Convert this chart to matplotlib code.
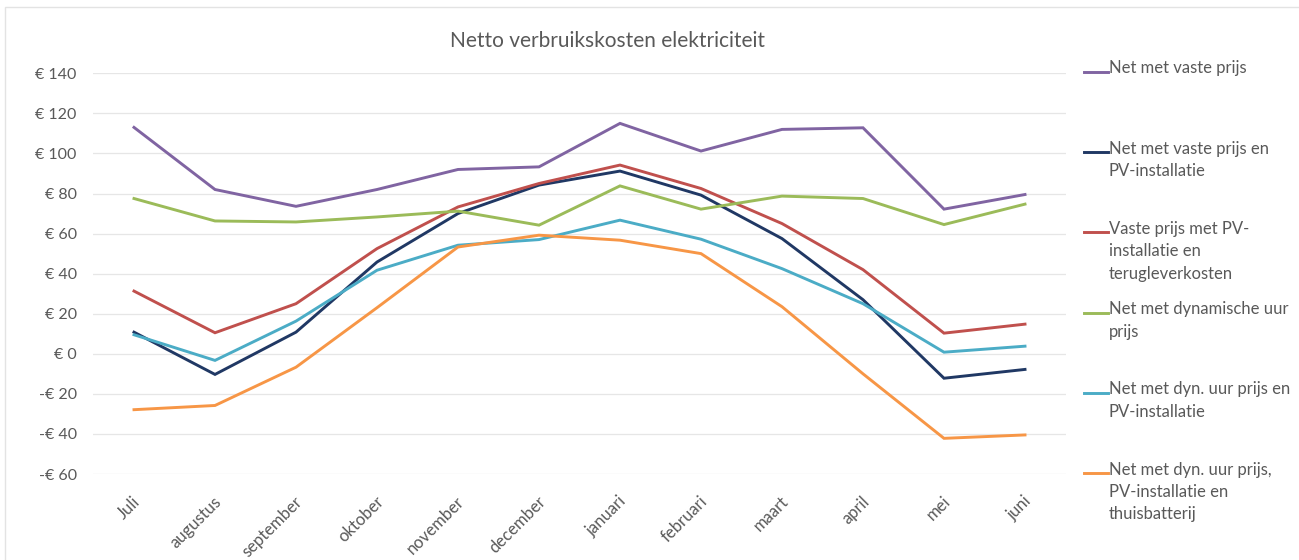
import matplotlib
matplotlib.use("Agg")
import matplotlib.pyplot as plt
from matplotlib.lines import Line2D
from matplotlib.patches import Rectangle
from matplotlib.transforms import ScaledTranslation

# maanden (categorie-as)
maanden = ["Juli", "augustus", "september", "oktober", "november", "december",
           "januari", "februari", "maart", "april", "mei", "juni"]

# netto kosten per maand (EUR)
vaste_prijs = [113, 82, 73.6, 82, 92, 93.3, 115, 101.2, 112, 112.8, 72.2, 79.5]
vaste_pv = [10.8, -10.3, 10.8, 45.8, 70, 84.2, 91.2, 79.2, 57.5, 27, -12.2, -7.8]
vaste_pv_terug = [31.3, 10.5, 25, 52.5, 73.3, 85, 94.2, 82.5, 65, 42, 10.3, 14.8]
dynamisch = [77.5, 66.3, 65.8, 68.3, 71.2, 64.2, 83.8, 72.2, 78.7, 77.5, 64.5, 74.7]
dyn_pv = [9.5, -3.3, 16.3, 41.7, 54.2, 57, 66.7, 57.2, 42.5, 25, 0.8, 3.8]
dyn_pv_batterij = [-27.9, -25.8, -6.7, 23, 53.3, 59.2, 56.7, 50, 23.5, -10, -42.2, -40.5]

reeksen = [
    ("Net met vaste prijs", vaste_prijs, "#8064A2"),
    ("Net met vaste prijs en\nPV-installatie", vaste_pv, "#203864"),
    ("Vaste prijs met PV-\ninstallatie en\nterugleverkosten", vaste_pv_terug, "#C0504D"),
    ("Net met dynamische uur\nprijs", dynamisch, "#9BBB59"),
    ("Net met dyn. uur prijs en\nPV-installatie", dyn_pv, "#4BACC6"),
    ("Net met dyn. uur prijs,\nPV-installatie en\nthuisbatterij", dyn_pv_batterij, "#F79646"),
]

y_ticks = list(range(-60, 141, 20))

plt.rcParams["font.family"] = ["Lato", "DejaVu Sans"]
tekst_kleur = "#595959"

W, H = 1299, 560
fig = plt.figure(figsize=(W / 100, H / 100), dpi=100)

# lichte kader rond het grafiekgebied
fig.add_artist(Rectangle((5 / W, -0.1), 1.2, 1 - 7 / H + 0.1, transform=fig.transFigure,
                         fill=False, edgecolor="#E3E3E3", lw=1))

ax = fig.add_axes([93.5 / W, 1 - 474 / H, (1065.5 - 93.5) / W, (474 - 73.3) / H])

x = list(range(len(maanden)))
for naam, waarden, kleur in reeksen:
    ax.plot(x, waarden, color=kleur, lw=2.1, solid_joinstyle="miter")

ax.set_xlim(-0.5, len(maanden) - 0.5)
ax.set_ylim(-60, 140)
ax.set_yticks(y_ticks)
ax.set_yticklabels([f"€ {v}" if v >= 0 else f"-€ {abs(v)}" for v in y_ticks])
ax.set_xticks(x)
ax.set_xticklabels(maanden, rotation=45, ha="right", va="center", rotation_mode="anchor")
ax.tick_params(axis="both", length=0, labelcolor=tekst_kleur)
ax.tick_params(axis="y", pad=12, labelsize=11.5)
ax.tick_params(axis="x", pad=18, labelsize=12)
# labels iets naar rechts, zoals in Excel
verschuiving = ScaledTranslation(4 / 100, 0, fig.dpi_scale_trans)
for lbl in ax.get_xticklabels():
    lbl.set_transform(lbl.get_transform() + verschuiving)
ax.grid(axis="y", color="#E6E6E6", lw=0.9)
ax.set_axisbelow(True)
for s in ax.spines.values():
    s.set_visible(False)

fig.text(607 / W, 1 - 41 / H, "Netto verbruikskosten elektriciteit",
         ha="center", va="center", fontsize=15, color=tekst_kleur)

# legenda rechts, telkens 80 px uit elkaar
for i, (naam, waarden, kleur) in enumerate(reeksen):
    y = 1 - (72 + 80.2 * i) / H
    fig.add_artist(Line2D([1084 / W, 1108 / W], [y, y], transform=fig.transFigure,
                          color=kleur, lw=2.1))
    fig.text(1109 / W, y + 11.5 / H, naam, ha="left", va="top", fontsize=12,
             color=tekst_kleur, linespacing=1.5)

fig.savefig("out.png", dpi=100, facecolor="white")
